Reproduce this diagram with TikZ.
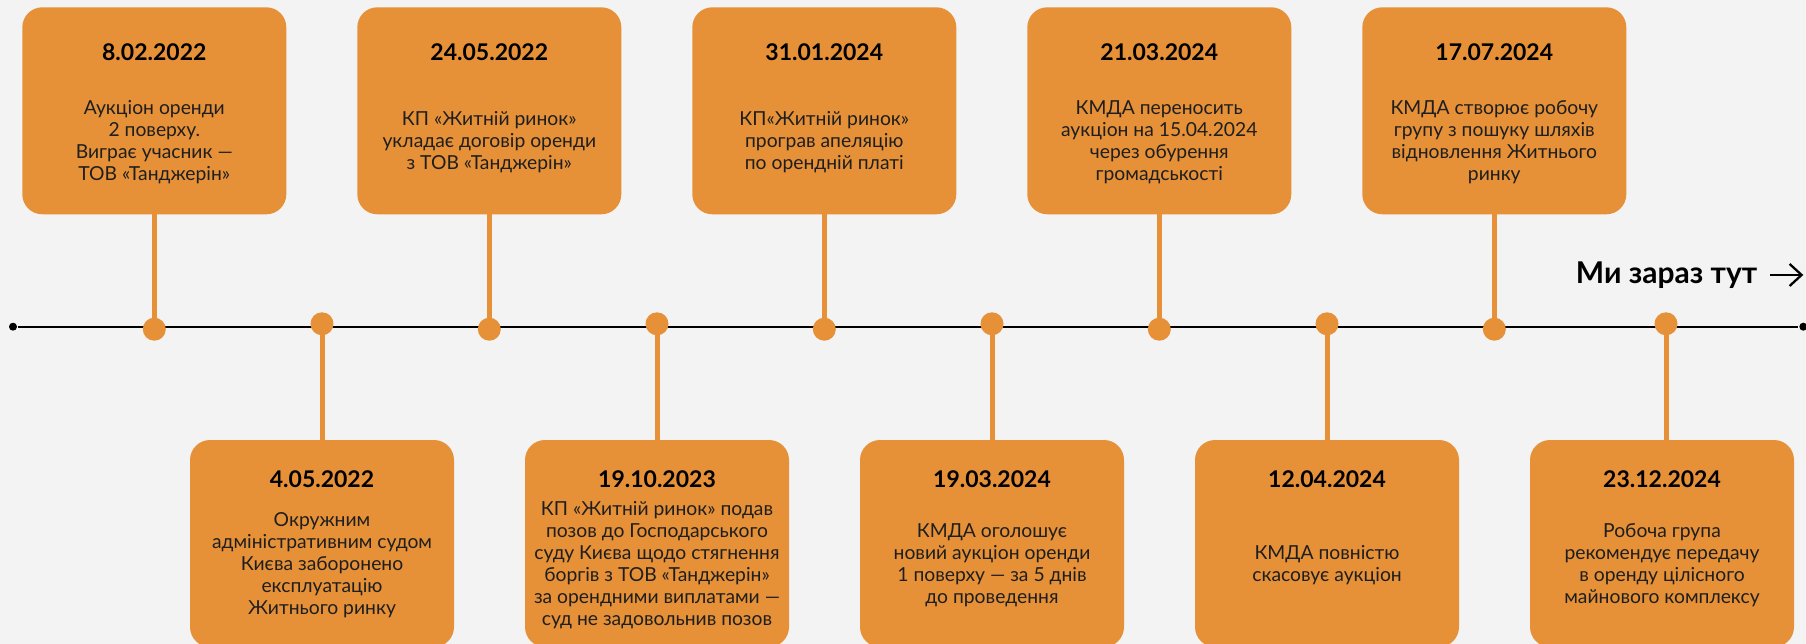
\documentclass[tikz,border=0pt]{standalone}
\usepackage{fontspec}
\setmainfont{Lato}
\usetikzlibrary{arrows.meta, positioning, calc}

\definecolor{boxorange}{HTML}{E69138}
\definecolor{paper}{HTML}{F3F3F3}
\definecolor{ink}{HTML}{1E1E1E}

\begin{document}
\begin{tikzpicture}[
    x=1pt, y=-1pt,
    line width=1.8pt,
    every node/.style={font=\fontsize{19.3}{22}\selectfont, text=ink},  % body text size
    node distance=71pt
]

% Styles for boxes, pins and stems
\tikzset{
    boxstyle/.style={
        rectangle,
        rounded corners=20pt,
        fill=boxorange,
        draw=none,
        minimum width=264pt,
        minimum height=207pt,
        inner sep=0pt,
        outer sep=0pt
    },
    datestyle/.style={font=\fontsize{23}{26}\selectfont\bfseries, text=black, inner sep=0pt},
    textstyle/.style={align=center, inner sep=0pt},
    pinstyle/.style={circle, fill=boxorange, minimum size=23pt, inner sep=0pt},
    stemstyle/.style={draw=boxorange, line width=5pt},
    endstyle/.style={circle, fill=black, minimum size=8pt, inner sep=0pt}
}

% Background and page size
\useasboundingbox (0,0) rectangle (1806,644);
\fill[paper] (0,0) rectangle (1806,644);

% Top row boxes
\node[boxstyle] (box1) at (154.3,110.8) {};
\node[boxstyle, right=of box1] (box3) {};
\node[boxstyle, right=of box3] (box5) {};
\node[boxstyle, right=of box5] (box7) {};
\node[boxstyle, right=of box7] (box9) {};

% Bottom row boxes
\node[boxstyle] (box2) at (322,543.5) {};
\node[boxstyle, right=of box2] (box4) {};
\node[boxstyle, right=of box4] (box6) {};
\node[boxstyle, right=of box6] (box8) {};
\node[boxstyle, right=of box8] (box10) {};

% Dates
\node[datestyle] (date1) at ([yshift=-45pt]box1.north) {8.02.2022};
\node[datestyle] (date3) at ([yshift=-45pt]box3.north) {24.05.2022};
\node[datestyle] (date5) at ([yshift=-45pt]box5.north) {31.01.2024};
\node[datestyle] (date7) at ([yshift=-45pt]box7.north) {21.03.2024};
\node[datestyle] (date9) at ([yshift=-45pt]box9.north) {17.07.2024};
\node[datestyle] (date2) at ([yshift=-39pt]box2.north) {4.05.2022};
\node[datestyle] (date4) at ([yshift=-39pt]box4.north) {19.10.2023};
\node[datestyle] (date6) at ([yshift=-39pt]box6.north) {19.03.2024};
\node[datestyle] (date8) at ([yshift=-39pt]box8.north) {12.04.2024};
\node[datestyle] (date10) at ([yshift=-39pt]box10.north) {23.12.2024};

% Event texts, top row
\node[textstyle] (txt1) at ([yshift=-135pt]box1.north) {Аукціон оренди\\2 поверху.\\Виграє учасник —\\ТОВ «Танджерін»};
\node[textstyle] (txt3) at ([yshift=-135pt]box3.north) {КП «Житній ринок»\\укладає договір оренди\\з ТОВ «Танджерін»};
\node[textstyle] (txt5) at ([yshift=-135pt]box5.north) {КП«Житній ринок»\\програв апеляцію\\по орендній платі};
\node[textstyle] (txt7) at ([yshift=-135pt]box7.north) {КМДА переносить\\аукціон на 15.04.2024\\через обурення\\громадськості};
\node[textstyle] (txt9) at ([yshift=-135pt]box9.north) {КМДА створює робочу\\групу з пошуку шляхів\\відновлення Житнього\\ринку};

% Event texts, bottom row
\node[textstyle] (txt2) at ([yshift=-125pt]box2.north) {Окружним\\адміністративним судом\\Києва заборонено\\експлуатацію\\Житнього ринку};
\node[textstyle] (txt4) at ([yshift=-125pt]box4.north) {КП «Житній ринок» подав\\позов до Господарського\\суду Києва щодо стягнення\\боргів з ТОВ «Танджерін»\\за орендними виплатами —\\суд не задовольнив позов};
\node[textstyle] (txt6) at ([yshift=-125pt]box6.north) {КМДА оголошує\\новий аукціон оренди\\1 поверху — за 5 днів\\до проведення};
\node[textstyle] (txt8) at ([yshift=-125pt]box8.north) {КМДА повністю\\скасовує аукціон};
\node[textstyle] (txt10) at ([yshift=-125pt]box10.north) {Робоча група\\рекомендує передачу\\в оренду цілісного\\майнового комплексу};

% Timeline
\node[endstyle] (start) at (13,326.7) {};
\node[endstyle] (stop) at (1803.3,326.7) {};
\draw[black] (start) -- (stop);

% Pins on the timeline (top events sit a little lower, bottom ones a little higher)
\node[pinstyle] (pin1) at ($(box1.south |- start)+(0,2.5)$) {};
\node[pinstyle] (pin3) at ($(box3.south |- start)+(0,2.5)$) {};
\node[pinstyle] (pin5) at ($(box5.south |- start)+(0,2.5)$) {};
\node[pinstyle] (pin7) at ($(box7.south |- start)+(0,2.5)$) {};
\node[pinstyle] (pin9) at ($(box9.south |- start)+(0,2.5)$) {};
\node[pinstyle] (pin2) at ($(box2.north |- start)+(0,-2.9)$) {};
\node[pinstyle] (pin4) at ($(box4.north |- start)+(0,-2.9)$) {};
\node[pinstyle] (pin6) at ($(box6.north |- start)+(0,-2.9)$) {};
\node[pinstyle] (pin8) at ($(box8.north |- start)+(0,-2.9)$) {};
\node[pinstyle] (pin10) at ($(box10.north |- start)+(4,-2.9)$) {};  % last pin is off centre

% Stems
\draw[stemstyle] (box1.south) -- (pin1.center);
\draw[stemstyle] (box3.south) -- (pin3.center);
\draw[stemstyle] (box5.south) -- (pin5.center);
\draw[stemstyle] (box7.south) -- (pin7.center);
\draw[stemstyle] (box9.south) -- (pin9.center);
\draw[stemstyle] (pin2.center) -- (box2.north);
\draw[stemstyle] (pin4.center) -- (box4.north);
\draw[stemstyle] (pin6.center) -- (box6.north);
\draw[stemstyle] (pin8.center) -- (box8.north);
\draw[stemstyle] (pin10.center) -- (pin10.center |- box10.north);

% "We are here" marker
\node[font=\fontsize{30}{32}\selectfont\bfseries, text=black, anchor=base west, inner sep=0pt] (here) at (1575,283.3) {Ми зараз тут};
\coordinate (heretip) at (1803.3,274.3);
\draw[-{Straight Barb[length=12pt,width=22pt]}, line width=2.3pt, shorten <=12pt] (here.east) -- (here.east -| heretip);

\end{tikzpicture}
\end{document}
